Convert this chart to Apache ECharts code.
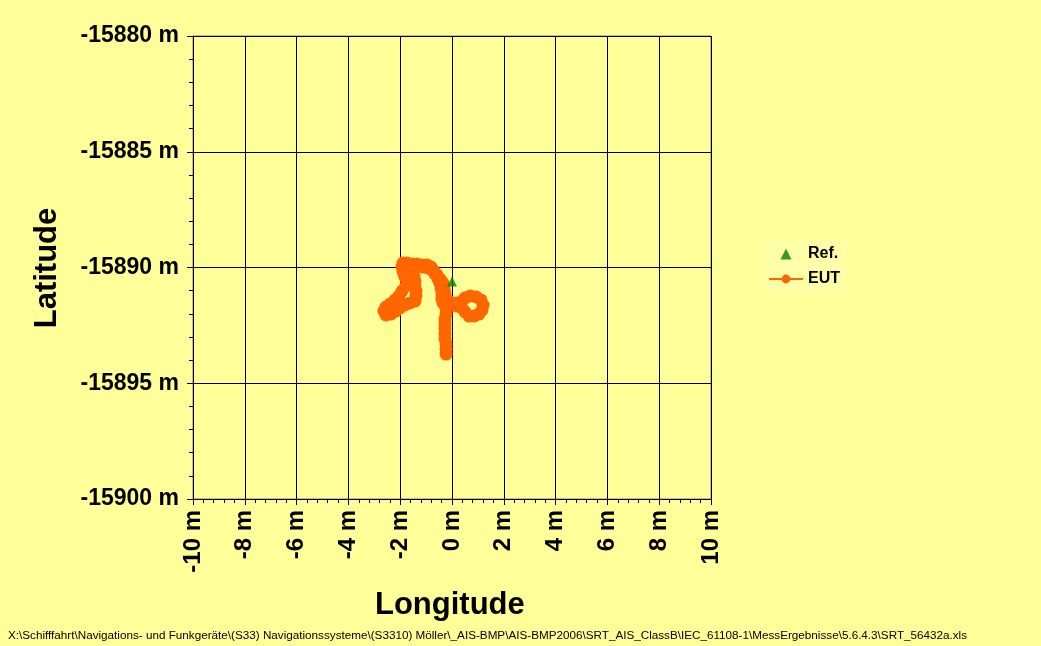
<!DOCTYPE html>
<html><head><meta charset="utf-8">
<script src="https://cdn.jsdelivr.net/npm/echarts@6/dist/echarts.min.js"></script>
<style>html,body{margin:0;padding:0;background:#FFFF99}#c{width:1041px;height:646px}</style>
</head><body><div id="c"></div>
<script>
const xTicks = [-10,-8,-6,-4,-2,0,2,4,6,8,10];
const yTicks = [-15900,-15895,-15890,-15885,-15880];
const refLon = [0];
const refLat = [-15890.6];
const eutLon = [-0.23,-0.23,-0.23,-0.27,-0.27,-0.27,-0.27,-0.27,-0.23,-0.23,-0.19,0,0.19,0.39,0.50,0.66,0.85,1.04,1.16,1.20,1.12,0.93,0.70,0.50,0.35,0.15,-0.08,-0.23,-0.27,-0.31,-0.35,-0.46,-0.58,-0.70,-0.81,-0.97,-1.16,-1.35,-1.54,-1.74,-1.89,-1.93,-1.89,-1.82,-1.74,-1.78,-1.93,-2.05,-2.20,-2.39,-2.55,-2.63,-2.55,-2.36,-2.16,-2.01,-1.82,-1.62,-1.43,-1.39,-1.39,-1.43,-1.43,-1.47,-1.51,-1.51,-1.31,-1.12,-0.93,-0.77,-0.66,-0.54,-0.46,-0.42,-0.39,-0.39,-0.35];
const eutLat = [-15893.74,-15893.52,-15893.30,-15893.09,-15892.87,-15892.66,-15892.44,-15892.22,-15892.01,-15891.79,-15891.62,-15891.62,-15891.66,-15891.75,-15891.92,-15892.10,-15892.10,-15892.01,-15891.84,-15891.62,-15891.40,-15891.27,-15891.23,-15891.32,-15891.49,-15891.53,-15891.49,-15891.32,-15891.10,-15890.89,-15890.67,-15890.50,-15890.32,-15890.15,-15889.98,-15889.89,-15889.89,-15889.85,-15889.85,-15889.81,-15889.81,-15889.98,-15890.19,-15890.41,-15890.58,-15890.80,-15891.02,-15891.23,-15891.40,-15891.58,-15891.71,-15891.88,-15892.05,-15892.01,-15891.88,-15891.75,-15891.62,-15891.53,-15891.45,-15891.23,-15891.02,-15890.80,-15890.58,-15890.37,-15890.15,-15889.98,-15889.94,-15889.98,-15890.02,-15890.11,-15890.28,-15890.50,-15890.71,-15890.93,-15891.14,-15891.36,-15891.53];
const footer = 'X:\\Schifffahrt\\Navigations- und Funkgeräte\\(S33) Navigationssysteme\\(S3310) Möller\\_AIS-BMP\\AIS-BMP2006\\SRT_AIS_ClassB\\IEC_61108-1\\MessErgebnisse\\5.6.4.3\\SRT_56432a.xls';

const FONT = '"Liberation Sans", Arial, sans-serif';
const chart = echarts.init(document.getElementById('c'), null, {renderer:'canvas'});
chart.setOption({
  backgroundColor: '#FFFF99',
  animation: false,
  grid: {left:193, right:330, top:36, bottom:147, show:true, backgroundColor:'#FFFF99', borderColor:'#808080', borderWidth:1},
  legend: {
    orient:'vertical', left:764, top:240, itemGap:9, itemWidth:34, itemHeight:11,
    backgroundColor:'#FFFFA8', padding:[6,6,6,4],
    textStyle:{fontFamily:FONT, fontWeight:'bold', fontSize:16, color:'#000'},
    data:[{name:'Ref.', icon:'path://M0,10 L5,0 L10,10 Z'}, {name:'EUT'}]
  },
  xAxis: {
    type:'value', min:xTicks[0], max:xTicks[xTicks.length-1], interval:2,
    axisLine:{onZero:false, lineStyle:{color:'#000', width:1}},
    axisTick:{show:true, length:6, lineStyle:{color:'#000'}},
    minorTick:{show:true, splitNumber:5, length:4, lineStyle:{color:'#000'}},
    splitLine:{show:true, lineStyle:{color:'#000', width:1}},
    axisLabel:{rotate:90, margin:11, fontFamily:FONT, fontWeight:'bold', fontSize:24, color:'#000',
      formatter:v=>v+' m'}
  },
  yAxis: {
    type:'value', min:yTicks[0], max:yTicks[yTicks.length-1], interval:5,
    axisLine:{onZero:false, lineStyle:{color:'#000', width:1}},
    axisTick:{show:true, length:6, lineStyle:{color:'#000'}},
    minorTick:{show:true, splitNumber:5, length:4, lineStyle:{color:'#000'}},
    splitLine:{show:true, lineStyle:{color:'#000', width:1}},
    axisLabel:{margin:14, fontFamily:FONT, fontWeight:'bold', fontSize:23, color:'#000',
      formatter:v=>String(v)+' m'}
  },
  graphic: [
    {type:'text', left:375, top:590, style:{text:'Longitude', font:'bold 31px '+FONT, fill:'#000'}},
    {type:'text', x:47, y:268, rotation:Math.PI/2, style:{text:'Latitude', font:'bold 31px '+FONT, fill:'#000', align:'center', verticalAlign:'middle'}},
    {type:'text', left:8, top:630, style:{text:footer, font:'11.7px "Liberation Sans Narrow", "Liberation Sans", Arial, sans-serif', fill:'#000'}}
  ],
  series: [
    {name:'EUT', type:'line', data:eutLon.map((x,i)=>[x,eutLat[i]]),
     symbol:'circle', symbolSize:13, showAllSymbol:true,
     lineStyle:{color:'#FF6600', width:5}, itemStyle:{color:'#FF6600'}, z:2},
    {name:'Ref.', type:'scatter', data:refLon.map((x,i)=>[x,refLat[i]]),
     symbol:'triangle', symbolSize:10, itemStyle:{color:'#008000'}, z:3}
  ]
});
</script></body></html>
